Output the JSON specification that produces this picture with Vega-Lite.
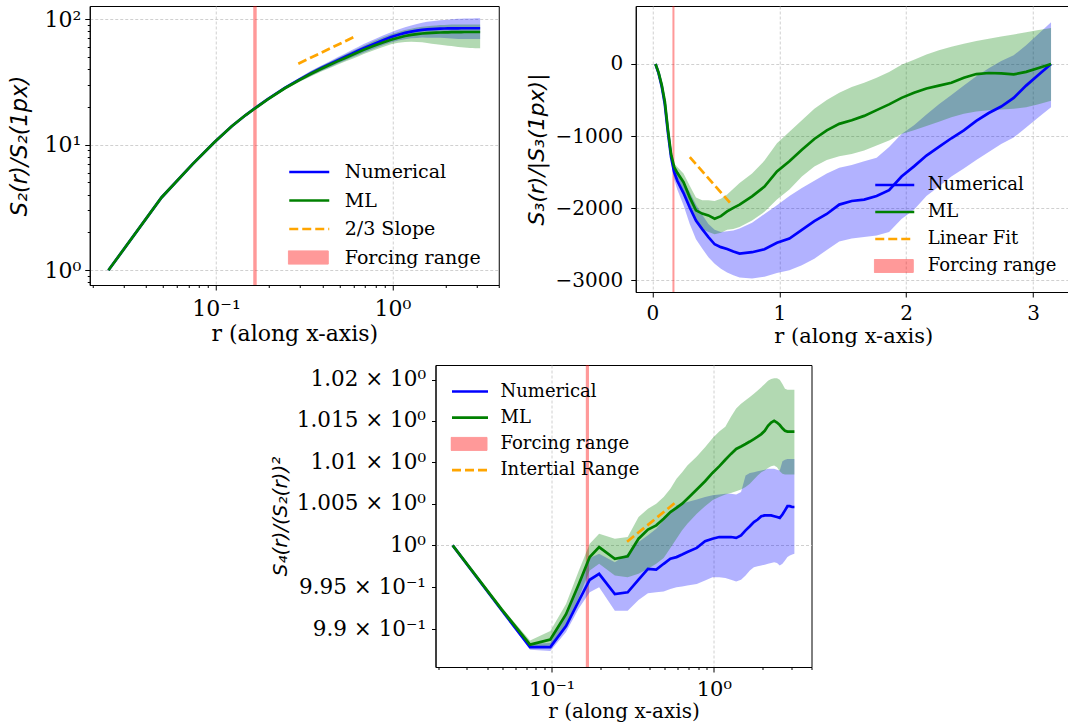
{
"$schema": "https://vega.github.io/schema/vega-lite/v6.json",
"padding": {"left": 7.5, "top": 5, "right": 0, "bottom": 0},
"config": {
  "font": "DejaVu Serif",
  "view": {"stroke": "#000", "strokeWidth": 1},
  "axis": {"labelFont": "DejaVu Serif", "labelColor": "#000", "titleFont": "DejaVu Serif", "titleColor": "#000", "titleFontWeight": "normal", "domainColor": "#000", "domainWidth": 1, "tickColor": "#000", "tickWidth": 1, "gridColor": "#c4c4c4", "gridDash": [3, 2], "gridWidth": 0.8, "labelOverlap": false, "labelFlush": false},
  "legend": {"labelFont": "DejaVu Serif", "labelColor": "#000", "padding": 0, "direction": "vertical", "orient": "none", "title": null, "labelLimit": 400},
  "title": {"font": "DejaVu Serif"}
},
"datasets": {
"p1": [
{"r":0.02454,"num":1,"num_lo":0.995,"num_hi":1.005,"ml":1,"ml_lo":0.995,"ml_hi":1.005},
{"r":0.04909,"num":3.8,"num_lo":3.78,"num_hi":3.82,"ml":3.8,"ml_lo":3.78,"ml_hi":3.82},
{"r":0.07363,"num":7.0,"num_lo":6.965,"num_hi":7.035,"ml":7.0,"ml_lo":6.965,"ml_hi":7.035},
{"r":0.09817,"num":10.5,"num_lo":10.45,"num_hi":10.55,"ml":10.5,"ml_lo":10.45,"ml_hi":10.55},
{"r":0.12272,"num":14.0,"num_lo":13.93,"num_hi":14.07,"ml":14.0,"ml_lo":13.93,"ml_hi":14.07},
{"r":0.14726,"num":17.2,"num_lo":17.11,"num_hi":17.29,"ml":17.2,"ml_lo":17.11,"ml_hi":17.29},
{"r":0.17181,"num":20.2,"num_lo":20.0,"num_hi":20.4,"ml":20.1,"ml_lo":19.9,"ml_hi":20.3},
{"r":0.19635,"num":23.0,"num_lo":22.66,"num_hi":23.35,"ml":22.9,"ml_lo":22.56,"ml_hi":23.24},
{"r":0.24544,"num":28.3,"num_lo":27.59,"num_hi":29.01,"ml":28.1,"ml_lo":27.4,"ml_hi":28.8},
{"r":0.29452,"num":32.8,"num_lo":31.65,"num_hi":33.95,"ml":32.5,"ml_lo":31.36,"ml_hi":33.64},
{"r":0.34361,"num":36.9,"num_lo":35.24,"num_hi":38.56,"ml":36.5,"ml_lo":34.86,"ml_hi":38.14},
{"r":0.3927,"num":40.5,"num_lo":38.48,"num_hi":42.53,"ml":40.0,"ml_lo":38.0,"ml_hi":42.0},
{"r":0.44179,"num":43.8,"num_lo":41.39,"num_hi":46.21,"ml":43.2,"ml_lo":40.82,"ml_hi":45.58},
{"r":0.49087,"num":47.0,"num_lo":44.18,"num_hi":49.82,"ml":46.2,"ml_lo":43.43,"ml_hi":48.97},
{"r":0.53996,"num":50.0,"num_lo":46.75,"num_hi":53.25,"ml":49.0,"ml_lo":45.82,"ml_hi":52.19},
{"r":0.58905,"num":53.0,"num_lo":49.29,"num_hi":56.71,"ml":51.7,"ml_lo":48.08,"ml_hi":55.32},
{"r":0.63814,"num":55.8,"num_lo":51.62,"num_hi":59.99,"ml":54.3,"ml_lo":50.34,"ml_hi":58.37},
{"r":0.68722,"num":58.5,"num_lo":53.82,"num_hi":63.18,"ml":56.8,"ml_lo":52.54,"ml_hi":61.34},
{"r":0.7854,"num":63.3,"num_lo":57.92,"num_hi":68.68,"ml":61.2,"ml_lo":56.43,"ml_hi":66.71},
{"r":0.88357,"num":67.8,"num_lo":61.7,"num_hi":73.9,"ml":65.0,"ml_lo":59.93,"ml_hi":71.5},
{"r":0.98175,"num":71.8,"num_lo":64.98,"num_hi":78.62,"ml":68.3,"ml_lo":62.84,"ml_hi":75.47},
{"r":1.07992,"num":75.0,"num_lo":67.5,"num_hi":82.5,"ml":71.0,"ml_lo":64.61,"ml_hi":78.81},
{"r":1.1781,"num":77.6,"num_lo":69.06,"num_hi":86.14,"ml":73.2,"ml_lo":65.51,"ml_hi":81.62},
{"r":1.27627,"num":79.4,"num_lo":70.27,"num_hi":88.93,"ml":74.8,"ml_lo":65.82,"ml_hi":83.78},
{"r":1.37445,"num":80.8,"num_lo":70.7,"num_hi":91.3,"ml":75.9,"ml_lo":65.65,"ml_hi":85.39},
{"r":1.47262,"num":81.9,"num_lo":71.25,"num_hi":93.37,"ml":76.7,"ml_lo":65.2,"ml_hi":86.67},
{"r":1.5708,"num":82.6,"num_lo":71.04,"num_hi":94.99,"ml":77.2,"ml_lo":64.46,"ml_hi":87.62},
{"r":1.66897,"num":83.1,"num_lo":71.05,"num_hi":95.98,"ml":77.6,"ml_lo":63.63,"ml_hi":88.46},
{"r":1.76715,"num":83.5,"num_lo":70.98,"num_hi":96.86,"ml":77.9,"ml_lo":63.1,"ml_hi":88.81},
{"r":1.86532,"num":83.8,"num_lo":70.81,"num_hi":97.63,"ml":78.1,"ml_lo":62.48,"ml_hi":89.42},
{"r":1.9635,"num":84.0,"num_lo":70.56,"num_hi":98.28,"ml":78.3,"ml_lo":61.86,"ml_hi":89.65},
{"r":2.06167,"num":84.1,"num_lo":70.22,"num_hi":98.82,"ml":78.4,"ml_lo":61.31,"ml_hi":90.16},
{"r":2.15984,"num":84.2,"num_lo":69.88,"num_hi":99.36,"ml":78.5,"ml_lo":60.84,"ml_hi":90.28},
{"r":2.25802,"num":84.3,"num_lo":69.55,"num_hi":99.89,"ml":78.6,"ml_lo":60.36,"ml_hi":90.39},
{"r":2.35619,"num":84.3,"num_lo":69.3,"num_hi":100.3,"ml":78.7,"ml_lo":59.97,"ml_hi":90.51},
{"r":2.45437,"num":84.4,"num_lo":69.21,"num_hi":100.6,"ml":78.7,"ml_lo":59.58,"ml_hi":90.51},
{"r":2.55254,"num":84.4,"num_lo":69.21,"num_hi":100.8,"ml":78.8,"ml_lo":59.34,"ml_hi":90.62},
{"r":2.65072,"num":84.4,"num_lo":69.2,"num_hi":100.9,"ml":78.8,"ml_lo":59.1,"ml_hi":90.62},
{"r":2.74889,"num":84.4,"num_lo":69.2,"num_hi":101.0,"ml":78.8,"ml_lo":58.86,"ml_hi":90.62},
{"r":2.84707,"num":84.4,"num_lo":69.2,"num_hi":101.1,"ml":78.8,"ml_lo":58.7,"ml_hi":90.62},
{"r":2.94524,"num":84.4,"num_lo":69.2,"num_hi":101.2,"ml":78.8,"ml_lo":58.6,"ml_hi":90.62},
{"r":3.04342,"num":84.4,"num_lo":69.2,"num_hi":101.2,"ml":78.8,"ml_lo":58.55,"ml_hi":90.62},
{"r":3.14159,"num":84.4,"num_lo":69.2,"num_hi":101.3,"ml":78.8,"ml_lo":58.5,"ml_hi":90.62}
],
"p2": [
{"r":0.02454,"num":0,"num_lo":0,"num_hi":0,"ml":0,"ml_lo":0,"ml_hi":0},
{"r":0.04909,"num":-130,"num_lo":-140,"num_hi":-120,"ml":-120,"ml_lo":-130,"ml_hi":-110},
{"r":0.07363,"num":-310,"num_lo":-330,"num_hi":-290,"ml":-290,"ml_lo":-310,"ml_hi":-270},
{"r":0.09817,"num":-560,"num_lo":-600,"num_hi":-520,"ml":-520,"ml_lo":-550,"ml_hi":-490},
{"r":0.12272,"num":-950,"num_lo":-1000,"num_hi":-900,"ml":-910,"ml_lo":-960,"ml_hi":-860},
{"r":0.14726,"num":-1290,"num_lo":-1360,"num_hi":-1230,"ml":-1250,"ml_lo":-1310,"ml_hi":-1190},
{"r":0.17181,"num":-1500,"num_lo":-1600,"num_hi":-1420,"ml":-1430,"ml_lo":-1500,"ml_hi":-1380},
{"r":0.19635,"num":-1620,"num_lo":-1740,"num_hi":-1520,"ml":-1510,"ml_lo":-1600,"ml_hi":-1430},
{"r":0.24544,"num":-1790,"num_lo":-1960,"num_hi":-1630,"ml":-1640,"ml_lo":-1760,"ml_hi":-1520},
{"r":0.29452,"num":-1990,"num_lo":-2220,"num_hi":-1780,"ml":-1850,"ml_lo":-2000,"ml_hi":-1690},
{"r":0.34361,"num":-2170,"num_lo":-2430,"num_hi":-1950,"ml":-2030,"ml_lo":-2200,"ml_hi":-1850},
{"r":0.3927,"num":-2290,"num_lo":-2560,"num_hi":-2090,"ml":-2075,"ml_lo":-2290,"ml_hi":-1890},
{"r":0.44179,"num":-2400,"num_lo":-2680,"num_hi":-2220,"ml":-2100,"ml_lo":-2330,"ml_hi":-1890},
{"r":0.49087,"num":-2500,"num_lo":-2770,"num_hi":-2300,"ml":-2145,"ml_lo":-2360,"ml_hi":-1900},
{"r":0.53996,"num":-2540,"num_lo":-2840,"num_hi":-2330,"ml":-2110,"ml_lo":-2340,"ml_hi":-1870},
{"r":0.58905,"num":-2565,"num_lo":-2890,"num_hi":-2320,"ml":-2045,"ml_lo":-2300,"ml_hi":-1810},
{"r":0.63814,"num":-2600,"num_lo":-2930,"num_hi":-2310,"ml":-1995,"ml_lo":-2290,"ml_hi":-1730},
{"r":0.68722,"num":-2630,"num_lo":-2960,"num_hi":-2280,"ml":-1950,"ml_lo":-2260,"ml_hi":-1650},
{"r":0.7854,"num":-2610,"num_lo":-2975,"num_hi":-2200,"ml":-1835,"ml_lo":-2170,"ml_hi":-1520},
{"r":0.88357,"num":-2570,"num_lo":-2950,"num_hi":-2080,"ml":-1700,"ml_lo":-2050,"ml_hi":-1340},
{"r":0.98175,"num":-2480,"num_lo":-2900,"num_hi":-1960,"ml":-1490,"ml_lo":-1880,"ml_hi":-1100},
{"r":1.07992,"num":-2420,"num_lo":-2860,"num_hi":-1830,"ml":-1350,"ml_lo":-1740,"ml_hi":-940},
{"r":1.1781,"num":-2300,"num_lo":-2790,"num_hi":-1720,"ml":-1190,"ml_lo":-1560,"ml_hi":-780},
{"r":1.27627,"num":-2180,"num_lo":-2700,"num_hi":-1620,"ml":-1040,"ml_lo":-1420,"ml_hi":-620},
{"r":1.37445,"num":-2080,"num_lo":-2580,"num_hi":-1520,"ml":-920,"ml_lo":-1330,"ml_hi":-500},
{"r":1.47262,"num":-1950,"num_lo":-2460,"num_hi":-1440,"ml":-830,"ml_lo":-1280,"ml_hi":-400},
{"r":1.5708,"num":-1900,"num_lo":-2420,"num_hi":-1400,"ml":-780,"ml_lo":-1250,"ml_hi":-320},
{"r":1.66897,"num":-1880,"num_lo":-2400,"num_hi":-1350,"ml":-720,"ml_lo":-1200,"ml_hi":-260},
{"r":1.76715,"num":-1830,"num_lo":-2380,"num_hi":-1300,"ml":-640,"ml_lo":-1130,"ml_hi":-190},
{"r":1.86532,"num":-1750,"num_lo":-2330,"num_hi":-1150,"ml":-560,"ml_lo":-1060,"ml_hi":-110},
{"r":1.9635,"num":-1560,"num_lo":-2150,"num_hi":-970,"ml":-470,"ml_lo":-970,"ml_hi":-10},
{"r":2.06167,"num":-1420,"num_lo":-2020,"num_hi":-850,"ml":-400,"ml_lo":-920,"ml_hi":60},
{"r":2.15984,"num":-1270,"num_lo":-1830,"num_hi":-700,"ml":-340,"ml_lo":-860,"ml_hi":130},
{"r":2.25802,"num":-1150,"num_lo":-1700,"num_hi":-560,"ml":-300,"ml_lo":-800,"ml_hi":190},
{"r":2.35619,"num":-1030,"num_lo":-1560,"num_hi":-430,"ml":-260,"ml_lo":-740,"ml_hi":240},
{"r":2.45437,"num":-920,"num_lo":-1450,"num_hi":-300,"ml":-190,"ml_lo":-690,"ml_hi":280},
{"r":2.55254,"num":-790,"num_lo":-1330,"num_hi":-170,"ml":-140,"ml_lo":-660,"ml_hi":320},
{"r":2.65072,"num":-680,"num_lo":-1220,"num_hi":-60,"ml":-125,"ml_lo":-640,"ml_hi":350},
{"r":2.74889,"num":-590,"num_lo":-1110,"num_hi":40,"ml":-130,"ml_lo":-630,"ml_hi":380},
{"r":2.84707,"num":-470,"num_lo":-1020,"num_hi":120,"ml":-145,"ml_lo":-620,"ml_hi":410},
{"r":2.94524,"num":-300,"num_lo":-880,"num_hi":260,"ml":-110,"ml_lo":-600,"ml_hi":440},
{"r":3.04342,"num":-150,"num_lo":-740,"num_hi":420,"ml":-55,"ml_lo":-560,"ml_hi":470},
{"r":3.14159,"num":0,"num_lo":-600,"num_hi":580,"ml":0,"ml_lo":-510,"ml_hi":500}
],
"p3": [
{"r":0.02454,"num":1,"num_lo":1,"num_hi":1,"ml":1,"ml_lo":1,"ml_hi":1},
{"r":0.04909,"num":0.9923,"num_lo":0.9921,"num_hi":0.9925,"ml":0.9924,"ml_lo":0.9922,"ml_hi":0.9926},
{"r":0.07363,"num":0.9879,"num_lo":0.9876,"num_hi":0.9883,"ml":0.9882,"ml_lo":0.9879,"ml_hi":0.9887},
{"r":0.09817,"num":0.9879,"num_lo":0.98745,"num_hi":0.9884,"ml":0.9888,"ml_lo":0.9881,"ml_hi":0.9898},
{"r":0.12272,"num":0.9904,"num_lo":0.9897,"num_hi":0.9921,"ml":0.9918,"ml_lo":0.9905,"ml_hi":0.993},
{"r":0.14726,"num":0.9934,"num_lo":0.9925,"num_hi":0.9955,"ml":0.9954,"ml_lo":0.9938,"ml_hi":0.997},
{"r":0.17181,"num":0.9959,"num_lo":0.9944,"num_hi":0.9985,"ml":0.9986,"ml_lo":0.997,"ml_hi":1.0002},
{"r":0.19635,"num":0.9966,"num_lo":0.995,"num_hi":0.999,"ml":0.9998,"ml_lo":0.9978,"ml_hi":1.0014},
{"r":0.24544,"num":0.9942,"num_lo":0.9922,"num_hi":0.998,"ml":0.9984,"ml_lo":0.9964,"ml_hi":1.0008},
{"r":0.29452,"num":0.9944,"num_lo":0.9922,"num_hi":0.999,"ml":0.9987,"ml_lo":0.9962,"ml_hi":1.001},
{"r":0.34361,"num":0.9959,"num_lo":0.9935,"num_hi":1.0004,"ml":1.0008,"ml_lo":0.9966,"ml_hi":1.0034},
{"r":0.3927,"num":0.9972,"num_lo":0.9943,"num_hi":1.0012,"ml":1.0019,"ml_lo":0.9972,"ml_hi":1.0044},
{"r":0.44179,"num":0.9971,"num_lo":0.9944,"num_hi":1.002,"ml":1.0024,"ml_lo":0.9978,"ml_hi":1.005},
{"r":0.49087,"num":0.9978,"num_lo":0.9945,"num_hi":1.003,"ml":1.0032,"ml_lo":0.9985,"ml_hi":1.0058},
{"r":0.53996,"num":0.9984,"num_lo":0.9948,"num_hi":1.004,"ml":1.004,"ml_lo":0.9997,"ml_hi":1.0068},
{"r":0.58905,"num":0.9986,"num_lo":0.995,"num_hi":1.0048,"ml":1.0045,"ml_lo":1.0008,"ml_hi":1.008},
{"r":0.63814,"num":0.9989,"num_lo":0.9951,"num_hi":1.005,"ml":1.005,"ml_lo":1.0018,"ml_hi":1.0088},
{"r":0.68722,"num":0.9992,"num_lo":0.9952,"num_hi":1.0052,"ml":1.0056,"ml_lo":1.0026,"ml_hi":1.0096},
{"r":0.7854,"num":0.9997,"num_lo":0.9954,"num_hi":1.0055,"ml":1.0067,"ml_lo":1.0038,"ml_hi":1.0107},
{"r":0.88357,"num":1.0005,"num_lo":0.9958,"num_hi":1.0058,"ml":1.0077,"ml_lo":1.0047,"ml_hi":1.0118},
{"r":0.98175,"num":1.0008,"num_lo":0.9962,"num_hi":1.006,"ml":1.0087,"ml_lo":1.0054,"ml_hi":1.0129},
{"r":1.07992,"num":1.001,"num_lo":0.9962,"num_hi":1.0061,"ml":1.0095,"ml_lo":1.0058,"ml_hi":1.0137},
{"r":1.1781,"num":1.001,"num_lo":0.9961,"num_hi":1.0062,"ml":1.0103,"ml_lo":1.0061,"ml_hi":1.0143},
{"r":1.27627,"num":1.001,"num_lo":0.9959,"num_hi":1.0062,"ml":1.011,"ml_lo":1.0063,"ml_hi":1.0155},
{"r":1.37445,"num":1.0009,"num_lo":0.9957,"num_hi":1.0061,"ml":1.0116,"ml_lo":1.0065,"ml_hi":1.0165},
{"r":1.47262,"num":1.0012,"num_lo":0.9959,"num_hi":1.0064,"ml":1.0119,"ml_lo":1.0067,"ml_hi":1.0171},
{"r":1.5708,"num":1.0018,"num_lo":0.9964,"num_hi":1.0084,"ml":1.0122,"ml_lo":1.007,"ml_hi":1.0175},
{"r":1.66897,"num":1.0023,"num_lo":0.997,"num_hi":1.0087,"ml":1.0125,"ml_lo":1.0074,"ml_hi":1.0179},
{"r":1.76715,"num":1.0028,"num_lo":0.9974,"num_hi":1.0088,"ml":1.0128,"ml_lo":1.0079,"ml_hi":1.0183},
{"r":1.86532,"num":1.0031,"num_lo":0.9975,"num_hi":1.0089,"ml":1.0131,"ml_lo":1.0084,"ml_hi":1.0187},
{"r":1.9635,"num":1.0035,"num_lo":0.9976,"num_hi":1.009,"ml":1.0134,"ml_lo":1.0088,"ml_hi":1.0191},
{"r":2.06167,"num":1.0036,"num_lo":0.9977,"num_hi":1.0091,"ml":1.0138,"ml_lo":1.009,"ml_hi":1.0195},
{"r":2.15984,"num":1.0036,"num_lo":0.9978,"num_hi":1.0092,"ml":1.0144,"ml_lo":1.0093,"ml_hi":1.0199},
{"r":2.25802,"num":1.0036,"num_lo":0.9979,"num_hi":1.0092,"ml":1.0148,"ml_lo":1.0095,"ml_hi":1.0201},
{"r":2.35619,"num":1.0035,"num_lo":0.998,"num_hi":1.0092,"ml":1.015,"ml_lo":1.0096,"ml_hi":1.0202},
{"r":2.45437,"num":1.0034,"num_lo":0.9979,"num_hi":1.0091,"ml":1.0148,"ml_lo":1.0094,"ml_hi":1.0202},
{"r":2.55254,"num":1.0033,"num_lo":0.9976,"num_hi":1.009,"ml":1.0145,"ml_lo":1.0089,"ml_hi":1.02},
{"r":2.65072,"num":1.0037,"num_lo":0.9978,"num_hi":1.0101,"ml":1.0141,"ml_lo":1.0086,"ml_hi":1.0195},
{"r":2.74889,"num":1.0042,"num_lo":0.9982,"num_hi":1.0103,"ml":1.0138,"ml_lo":1.0085,"ml_hi":1.0189},
{"r":2.84707,"num":1.0047,"num_lo":0.9986,"num_hi":1.0104,"ml":1.0137,"ml_lo":1.0085,"ml_hi":1.0188},
{"r":2.94524,"num":1.0047,"num_lo":0.9988,"num_hi":1.0104,"ml":1.0137,"ml_lo":1.0085,"ml_hi":1.0188},
{"r":3.04342,"num":1.0046,"num_lo":0.9989,"num_hi":1.0104,"ml":1.0137,"ml_lo":1.0085,"ml_hi":1.0188},
{"r":3.14159,"num":1.0046,"num_lo":0.999,"num_hi":1.0104,"ml":1.0137,"ml_lo":1.0085,"ml_hi":1.0188}
]
},
"spacing": 17,
"center": true,
"resolve": {"scale": {"stroke": "independent", "fill": "independent", "strokeDash": "independent"}, "legend": {"stroke": "independent", "fill": "independent", "strokeDash": "independent"}},
"vconcat": [
{
"spacing": 25,
"resolve": {"scale": {"stroke": "independent", "fill": "independent", "strokeDash": "independent"}, "legend": {"stroke": "independent", "fill": "independent", "strokeDash": "independent"}},
"hconcat": [
{
"width": 409, "height": 279,
"layer": [
{"data": {"values": [{"a": 0.1625, "b": 0.17}]},
 "mark": {"type": "rect", "opacity": 0.4},
 "encoding": {
  "x": {"field": "a", "type": "quantitative", "scale": {"type": "log", "domain": [0.01923, 4.005], "nice": false},
    "axis": {"title": "r (along x-axis)", "titleFontSize": 22, "labelFontSize": 22,
      "values": [0.02,0.03,0.04,0.05,0.06,0.07,0.08,0.09,0.1,0.2,0.3,0.4,0.5,0.6,0.7,0.8,0.9,1,2,3,4],
      "labelExpr": "datum.value == 0.1 ? '10⁻¹' : datum.value == 1 ? '10⁰' : ''",
      "tickSize": {"condition": {"test": "datum.value == 0.1 || datum.value == 1", "value": 5}, "value": 2.5},
      "gridOpacity": {"condition": {"test": "datum.value == 0.1 || datum.value == 1", "value": 1}, "value": 0},
      "labelPadding": 8, "minExtent": 28, "maxExtent": 28, "titlePadding": 10}},
  "x2": {"field": "b"},
  "fill": {"datum": "Forcing range", "type": "nominal",
    "scale": {"domain": ["Forcing range"], "range": ["#ff0000"]},
    "legend": {"legendX": 198, "legendY": 241.5, "labelFontSize": 19, "symbolSize": 1600, "symbolType": "M-1,-0.33H1V0.33H-1Z", "symbolStrokeColor": "#ff0000", "symbolStrokeWidth": 1, "labelOffset": 16, "rowPadding": 8.5, "clipHeight": 20}}
 }},
{"data": {"name": "p1"}, "mark": {"type": "area", "color": "#0000ff", "opacity": 0.3},
 "encoding": {
  "x": {"field": "r", "type": "quantitative"},
  "y": {"field": "num_lo", "type": "quantitative", "scale": {"type": "log", "domain": [0.764, 126.9], "nice": false},
    "axis": {"title": "S₂(r)/S₂(1px)", "titleFont": "DejaVu Sans", "titleFontStyle": "italic", "titleFontSize": 22.5, "labelFontSize": 22,
      "values": [0.8,0.9,1,2,3,4,5,6,7,8,9,10,20,30,40,50,60,70,80,90,100],
      "labelExpr": "datum.value == 1 ? '10⁰' : datum.value == 10 ? '10¹' : datum.value == 100 ? '10²' : ''",
      "tickSize": {"condition": {"test": "datum.value == 1 || datum.value == 10 || datum.value == 100", "value": 5}, "value": 2.5},
      "gridOpacity": {"condition": {"test": "datum.value == 1 || datum.value == 10 || datum.value == 100", "value": 1}, "value": 0},
      "labelPadding": 4, "minExtent": 44, "maxExtent": 44, "titlePadding": 14}},
  "y2": {"field": "num_hi"}}},
{"data": {"name": "p1"}, "mark": {"type": "area", "color": "#008000", "opacity": 0.3},
 "encoding": {"x": {"field": "r", "type": "quantitative"}, "y": {"field": "ml_lo", "type": "quantitative"}, "y2": {"field": "ml_hi"}}},
{"data": {"name": "p1"}, "mark": {"type": "line", "strokeWidth": 2.7},
 "encoding": {"x": {"field": "r", "type": "quantitative"}, "y": {"field": "num", "type": "quantitative"},
  "stroke": {"datum": "Numerical", "type": "nominal", "scale": {"domain": ["Numerical", "ML"], "range": ["#0000ff", "#008000"]},
    "legend": {"legendX": 198, "legendY": 156, "labelFontSize": 19, "symbolSize": 1600, "symbolType": "stroke", "symbolStrokeWidth": 2.7, "labelOffset": 14, "rowPadding": 8.5, "clipHeight": 20}}}},
{"data": {"name": "p1"}, "mark": {"type": "line", "strokeWidth": 2.7},
 "encoding": {"x": {"field": "r", "type": "quantitative"}, "y": {"field": "ml", "type": "quantitative"}, "stroke": {"datum": "ML", "type": "nominal"}}},
{"data": {"values": [{"r": 0.2926, "y": 44.1}, {"r": 0.6162, "y": 72.8}]}, "mark": {"type": "line", "strokeWidth": 2.7, "color": "#ffa500"},
 "encoding": {"x": {"field": "r", "type": "quantitative"}, "y": {"field": "y", "type": "quantitative"},
  "strokeDash": {"datum": "2/3 Slope", "type": "nominal", "scale": {"domain": ["2/3 Slope"], "range": [[9, 4]]},
    "legend": {"legendX": 198, "legendY": 213, "labelFontSize": 19, "symbolSize": 1600, "symbolType": "stroke", "symbolStrokeWidth": 2.7, "symbolStrokeColor": "#ffa500", "labelOffset": 14, "rowPadding": 8.5, "clipHeight": 20}}}}
]
},
{
"width": 522, "height": 286,
"layer": [
{"data": {"values": [{"a": 0.158, "b": 0.174}]},
 "mark": {"type": "rect", "opacity": 0.4},
 "encoding": {
  "x": {"field": "a", "type": "quantitative", "scale": {"domain": [-0.131, 3.9825], "nice": false, "zero": false},
    "axis": {"title": "r (along x-axis)", "titleFontSize": 21, "labelFontSize": 20, "values": [0, 1, 2, 3], "format": "d",
      "tickSize": 5, "labelPadding": 6, "minExtent": 24, "maxExtent": 24, "titlePadding": 9.5, "titleX": 217.5}},
  "x2": {"field": "b"},
  "fill": {"datum": "Forcing range", "type": "nominal",
    "scale": {"domain": ["Forcing range"], "range": ["#ff0000"]},
    "legend": {"legendX": 238, "legendY": 250.5, "labelFontSize": 18, "symbolSize": 1521, "symbolType": "M-1,-0.33H1V0.33H-1Z", "symbolStrokeColor": "#ff0000", "symbolStrokeWidth": 1, "labelOffset": 14, "rowPadding": 8, "clipHeight": 19}}
 }},
{"data": {"name": "p2"}, "mark": {"type": "area", "color": "#0000ff", "opacity": 0.3},
 "encoding": {
  "x": {"field": "r", "type": "quantitative"},
  "y": {"field": "num_lo", "type": "quantitative", "scale": {"domain": [-3162, 804], "nice": false, "zero": false},
    "axis": {"title": "S₃(r)/|S₃(1px)|", "titleFont": "DejaVu Sans", "titleFontStyle": "italic", "titleFontSize": 22, "labelFontSize": 20,
      "values": [-3000, -2000, -1000, 0],
      "labelExpr": "replace(format(datum.value, 'd'), '-', '−')",
      "tickSize": 5, "labelPadding": 8, "minExtent": 78, "maxExtent": 78, "titlePadding": 9}},
  "y2": {"field": "num_hi"}}},
{"data": {"name": "p2"}, "mark": {"type": "area", "color": "#008000", "opacity": 0.3},
 "encoding": {"x": {"field": "r", "type": "quantitative"}, "y": {"field": "ml_lo", "type": "quantitative"}, "y2": {"field": "ml_hi"}}},
{"data": {"name": "p2"}, "mark": {"type": "line", "strokeWidth": 2.7},
 "encoding": {"x": {"field": "r", "type": "quantitative"}, "y": {"field": "num", "type": "quantitative"},
  "stroke": {"datum": "Numerical", "type": "nominal", "scale": {"domain": ["Numerical", "ML"], "range": ["#0000ff", "#008000"]},
    "legend": {"legendX": 238, "legendY": 169.5, "labelFontSize": 18, "symbolSize": 1521, "symbolType": "stroke", "symbolStrokeWidth": 2.7, "labelOffset": 12, "rowPadding": 8, "clipHeight": 19}}}},
{"data": {"name": "p2"}, "mark": {"type": "line", "strokeWidth": 2.7},
 "encoding": {"x": {"field": "r", "type": "quantitative"}, "y": {"field": "ml", "type": "quantitative"}, "stroke": {"datum": "ML", "type": "nominal"}}},
{"data": {"values": [{"r": 0.295, "v": -1291}, {"r": 0.611, "v": -1924}]}, "mark": {"type": "line", "strokeWidth": 2.7, "color": "#ffa500"},
 "encoding": {"x": {"field": "r", "type": "quantitative"}, "y": {"field": "v", "type": "quantitative"},
  "strokeDash": {"datum": "Linear Fit", "type": "nominal", "scale": {"domain": ["Linear Fit"], "range": [[9, 4]]},
    "legend": {"legendX": 238, "legendY": 223.5, "labelFontSize": 18, "symbolSize": 1521, "symbolType": "stroke", "symbolStrokeWidth": 2.7, "symbolStrokeColor": "#ffa500", "labelOffset": 12, "rowPadding": 8, "clipHeight": 19}}}}
]
}
]
},
{
"width": 376, "height": 302,
"layer": [
{"data": {"values": [{"a": 0.1625, "b": 0.17}]},
 "mark": {"type": "rect", "opacity": 0.4},
 "encoding": {
  "x": {"field": "a", "type": "quantitative", "scale": {"type": "log", "domain": [0.01923, 4.005], "nice": false},
    "axis": {"title": "r (along x-axis)", "titleFontSize": 20, "labelFontSize": 21,
      "values": [0.02,0.03,0.04,0.05,0.06,0.07,0.08,0.09,0.1,0.2,0.3,0.4,0.5,0.6,0.7,0.8,0.9,1,2,3,4],
      "labelExpr": "datum.value == 0.1 ? '10⁻¹' : datum.value == 1 ? '10⁰' : ''",
      "tickSize": {"condition": {"test": "datum.value == 0.1 || datum.value == 1", "value": 5}, "value": 2.5},
      "gridOpacity": {"condition": {"test": "datum.value == 0.1 || datum.value == 1", "value": 1}, "value": 0},
      "labelPadding": 6, "minExtent": 25, "maxExtent": 25, "titlePadding": 9.5}},
  "x2": {"field": "b"},
  "fill": {"datum": "Forcing range", "type": "nominal",
    "scale": {"domain": ["Forcing range"], "range": ["#ff0000"]},
    "legend": {"legendX": 15, "legendY": 69.4, "labelFontSize": 18, "symbolSize": 1296, "symbolType": "M-1,-0.36H1V0.36H-1Z", "symbolStrokeColor": "#ff0000", "symbolStrokeWidth": 1, "labelOffset": 13, "rowPadding": 7.2, "clipHeight": 19}}
 }},
{"data": {"name": "p3"}, "mark": {"type": "area", "color": "#0000ff", "opacity": 0.3},
 "encoding": {
  "x": {"field": "r", "type": "quantitative"},
  "y": {"field": "num_lo", "type": "quantitative", "scale": {"type": "log", "domain": [0.98556, 1.02181], "nice": false},
    "axis": {"title": "S₄(r)/(S₂(r))²", "titleFont": "DejaVu Sans", "titleFontStyle": "italic", "titleFontSize": 20, "labelFontSize": 21.5,
      "values": [0.99, 0.995, 1, 1.005, 1.01, 1.015, 1.02],
      "labelExpr": "datum.value < 0.9999 ? format(datum.value * 10, '.3~f') + ' × 10⁻¹' : datum.value < 1.0001 ? '10⁰' : format(datum.value, '.3~f') + ' × 10⁰'",
      "tickSize": 4,
      "gridOpacity": {"condition": {"test": "datum.value == 1", "value": 1}, "value": 0},
      "labelPadding": 6, "minExtent": 138, "maxExtent": 138, "titlePadding": 7}},
  "y2": {"field": "num_hi"}}},
{"data": {"name": "p3"}, "mark": {"type": "area", "color": "#008000", "opacity": 0.3},
 "encoding": {"x": {"field": "r", "type": "quantitative"}, "y": {"field": "ml_lo", "type": "quantitative"}, "y2": {"field": "ml_hi"}}},
{"data": {"name": "p3"}, "mark": {"type": "line", "strokeWidth": 2.7},
 "encoding": {"x": {"field": "r", "type": "quantitative"}, "y": {"field": "num", "type": "quantitative"},
  "stroke": {"datum": "Numerical", "type": "nominal", "scale": {"domain": ["Numerical", "ML"], "range": ["#0000ff", "#008000"]},
    "legend": {"legendX": 15, "legendY": 17, "labelFontSize": 18, "symbolSize": 1296, "symbolType": "stroke", "symbolStrokeWidth": 2.7, "labelOffset": 11, "rowPadding": 7.2, "clipHeight": 19}}}},
{"data": {"name": "p3"}, "mark": {"type": "line", "strokeWidth": 2.7},
 "encoding": {"x": {"field": "r", "type": "quantitative"}, "y": {"field": "ml", "type": "quantitative"}, "stroke": {"datum": "ML", "type": "nominal"}}},
{"data": {"values": [{"r": 0.292, "v": 1.00044}, {"r": 0.589, "v": 1.00524}]}, "mark": {"type": "line", "strokeWidth": 2.7, "color": "#ffa500"},
 "encoding": {"x": {"field": "r", "type": "quantitative"}, "y": {"field": "v", "type": "quantitative"},
  "strokeDash": {"datum": "Intertial Range", "type": "nominal", "scale": {"domain": ["Intertial Range"], "range": [[9, 4]]},
    "legend": {"legendX": 15, "legendY": 95.6, "labelFontSize": 18, "symbolSize": 1296, "symbolType": "stroke", "symbolStrokeWidth": 2.7, "symbolStrokeColor": "#ffa500", "labelOffset": 11, "rowPadding": 7.2, "clipHeight": 19}}}}
]
}
]
}
